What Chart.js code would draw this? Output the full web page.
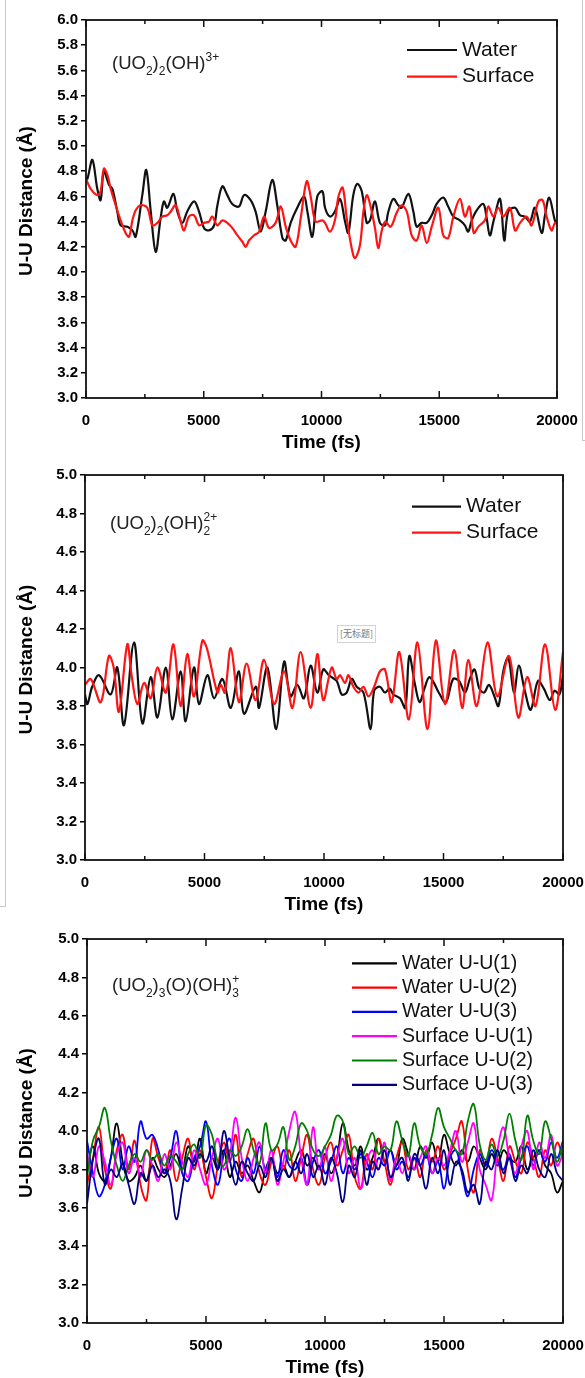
<!DOCTYPE html>
<html>
<head>
<meta charset="utf-8">
<script src="https://cdn.jsdelivr.net/npm/chart.js@4.4.0/dist/chart.umd.min.js"></script>
<style>
  body { margin: 0; background: #fff; width: 585px; height: 1378px; position: relative; overflow: hidden; }
  canvas { position: absolute; left: 0; }
  .rule { position: absolute; background: #c8c8c8; }
  .untitled { position: absolute; left: 337px; top: 625px; width: 37px; height: 16px; border: 1px solid #d4d4d4;
    font: 9px "Noto Sans CJK SC", sans-serif; color: #777; text-align: center; line-height: 16px; background: #fff; }
</style>
</head>
<body>
<canvas id="chart1" width="585" height="460" style="top:0"></canvas>
<canvas id="chart2" width="585" height="460" style="top:460px"></canvas>
<canvas id="chart3" width="585" height="458" style="top:920px"></canvas>
<div class="rule" style="left:5px;top:0;width:1px;height:907px"></div>
<div class="rule" style="left:0;top:906px;width:5px;height:1px"></div>
<div class="rule" style="left:582px;top:0;width:1px;height:440px"></div>
<div class="rule" style="left:582px;top:440px;width:3px;height:1px"></div>
<div class="untitled">[无标题]</div>
<script>
// ---- panel 1: (UO2)2(OH)3+ ----
const p1WaterT = [0,60,270,480,620,760,980,1120,1330,1470,1760,1970,2110,2390,2560,2750,2960,3170,3310,3450,3710,3880,4090,4300,4590,4800,5010,5220,5440,5580,5790,6000,6210,6500,6710,6990,7200,7420,7630,7910,8120,8340,8480,8690,8970,9260,9400,9610,9820,10040,10150,10360,10570,10790,11000,11140,11350,11520,11710,11920,12060,12270,12480,12700,12840,13050,13260,13400,13690,13900,14040,14250,14470,14680,14890,15170,15380,15600,15880,16090,16230,16380,16590,16870,17010,17150,17300,17580,17760,17930,18220,18430,18640,18850,19060,19350,19490,19670,19910,20000];
const p1Water = [4.75,4.74,4.89,4.66,4.57,4.80,4.69,4.66,4.48,4.37,4.36,4.33,4.28,4.61,4.81,4.48,4.16,4.43,4.56,4.51,4.62,4.48,4.39,4.48,4.56,4.48,4.35,4.33,4.37,4.53,4.68,4.61,4.54,4.52,4.61,4.57,4.48,4.32,4.48,4.73,4.53,4.27,4.25,4.39,4.51,4.60,4.48,4.28,4.60,4.64,4.51,4.44,4.48,4.58,4.40,4.31,4.61,4.70,4.64,4.39,4.41,4.56,4.39,4.37,4.48,4.58,4.53,4.51,4.62,4.48,4.36,4.39,4.39,4.45,4.54,4.59,4.52,4.44,4.41,4.37,4.32,4.41,4.49,4.54,4.43,4.29,4.40,4.58,4.25,4.48,4.51,4.45,4.44,4.40,4.51,4.31,4.45,4.59,4.41,4.38];
const p1SurfaceT = [0,200,480,620,760,910,1050,1260,1470,1680,1830,1970,2110,2320,2600,2820,3030,3240,3450,3600,3810,4020,4160,4370,4590,4800,5010,5220,5360,5580,5790,6000,6210,6430,6640,6780,6920,7130,7350,7560,7770,8050,8270,8480,8690,8900,9120,9370,9540,9750,10040,10150,10360,10570,10720,10900,11070,11280,11420,11630,11780,11920,12060,12270,12410,12550,12700,12940,13190,13400,13620,13830,14040,14250,14470,14680,14960,15170,15380,15600,15880,16090,16280,16470,16660,16940,17080,17300,17510,17720,18000,18220,18430,18710,18920,19210,19390,19560,19770,19910,20000];
const p1Surface = [4.74,4.66,4.61,4.64,4.82,4.77,4.66,4.53,4.41,4.31,4.28,4.41,4.49,4.53,4.51,4.37,4.39,4.44,4.45,4.48,4.53,4.40,4.33,4.44,4.45,4.37,4.39,4.40,4.44,4.37,4.41,4.39,4.35,4.29,4.24,4.20,4.25,4.29,4.32,4.44,4.35,4.39,4.52,4.36,4.25,4.20,4.43,4.72,4.60,4.40,4.41,4.39,4.32,4.41,4.60,4.67,4.43,4.19,4.11,4.21,4.48,4.61,4.54,4.35,4.19,4.32,4.40,4.36,4.47,4.53,4.48,4.29,4.25,4.37,4.23,4.36,4.51,4.29,4.27,4.44,4.58,4.44,4.52,4.31,4.36,4.41,4.52,4.44,4.51,4.44,4.51,4.33,4.39,4.44,4.37,4.56,4.57,4.44,4.33,4.39,4.38];

// ---- panel 2: (UO2)2(OH)2 2+ ----
const p2WaterT = [0,100,300,590,1070,1350,1630,2050,2400,2750,3030,3380,3650,4000,4210,4560,4770,5120,5400,5750,6100,6440,6650,7140,7280,7630,8000,8330,8600,8880,9160,9440,9720,9970,10200,10530,10740,10950,11160,11370,11650,11950,12100,12340,12550,12750,12900,13180,13400,13570,13810,14000,14200,14400,14600,14800,15100,15400,15650,15900,16100,16300,16500,16700,16900,17100,17300,17500,17710,17950,18150,18400,18650,18950,19200,19450,19650,19850,20000];
const p2Water = [3.86,3.81,3.90,3.96,3.86,4.00,3.70,4.13,3.71,3.95,3.74,4.00,3.73,3.98,3.72,4.00,3.81,3.96,3.84,3.94,3.79,3.98,3.76,3.90,3.79,4.00,3.68,4.03,3.85,3.91,3.84,4.01,3.87,3.99,3.96,3.93,3.86,3.87,3.94,3.90,3.87,3.68,3.88,3.90,3.87,3.89,3.86,3.84,3.79,4.06,3.91,3.82,3.89,3.95,3.92,3.87,3.82,3.94,3.93,3.87,3.94,3.99,3.89,3.87,3.91,3.86,3.80,3.98,4.05,3.87,4.01,3.88,3.78,3.93,3.89,3.83,3.88,3.86,3.96];
const p2SurfaceT = [0,240,660,1000,1200,1420,1770,1950,2190,2470,2750,3030,3380,3700,4000,4280,4560,4910,5100,5540,5680,5850,6100,6440,6760,7140,7490,7910,8330,8680,9020,9440,9720,9970,10320,10530,10670,10880,11020,11230,11440,11650,11860,12100,12340,12550,12830,13150,13550,13910,14330,14680,15060,15450,15780,16040,16390,16840,17250,17740,18130,18500,18850,19250,19670,20000];
const p2Surface = [3.91,3.94,3.82,4.06,4.00,3.77,4.12,3.96,3.81,3.92,3.84,4.00,3.87,4.12,3.80,4.07,3.85,4.14,4.10,3.87,3.91,3.87,4.10,3.82,4.02,3.83,4.04,3.81,3.98,3.79,4.08,3.79,4.07,3.83,4.00,3.94,3.96,3.92,3.96,3.90,3.87,3.90,3.85,3.90,3.98,3.99,3.82,4.08,3.73,4.13,3.68,4.14,3.81,4.09,3.79,4.04,3.80,4.13,3.85,4.06,3.74,3.95,3.80,4.12,3.78,4.08];

// ---- panel 3: (UO2)3(O)(OH)3 + ----
const p3Time = [0,250,500,750,1000,1250,1500,1750,2000,2250,2500,2750,3000,3250,3500,3750,4000,4250,4500,4750,5000,5250,5500,5750,6000,6250,6500,6750,7000,7250,7500,7750,8000,8250,8500,8750,9000,9250,9500,9750,10000,10250,10500,10750,11000,11250,11500,11750,12000,12250,12500,12750,13000,13250,13500,13750,14000,14250,14500,14750,15000,15250,15500,15750,16000,16250,16500,16750,17000,17250,17500,17750,18000,18250,18500,18750,19000,19250,19500,19750,20000];
const p3Water1 = [3.80,3.92,3.78,3.74,3.86,4.04,3.84,3.74,3.76,3.82,3.74,3.86,3.80,3.76,3.82,3.88,3.80,3.92,3.84,3.96,3.78,3.86,3.80,3.90,3.76,3.84,3.78,3.82,3.74,3.68,3.80,3.86,3.78,3.82,3.76,3.84,3.90,3.82,3.86,3.80,3.88,3.78,3.86,4.04,3.90,3.82,3.92,3.80,3.86,3.96,3.84,3.90,3.82,3.96,3.88,3.80,3.92,3.86,3.94,3.84,3.98,3.88,3.82,3.90,3.84,3.92,3.86,3.80,3.88,3.82,3.90,3.86,3.84,3.92,3.80,3.86,3.90,3.82,3.78,3.68,3.74];
const p3Water2 = [3.72,3.86,4.02,3.80,3.70,3.90,3.98,3.80,3.95,3.72,3.64,3.96,3.86,3.78,3.90,3.74,3.86,3.96,3.80,3.90,3.76,3.65,3.82,3.94,3.84,3.98,3.76,3.88,3.96,3.78,3.72,3.84,3.92,3.80,3.90,3.74,3.86,3.98,3.80,3.72,3.86,3.94,3.82,3.90,3.98,3.76,3.70,3.88,3.80,3.96,3.84,3.72,3.86,3.94,3.80,3.86,3.76,3.90,3.84,3.92,3.80,3.88,3.96,4.05,3.80,3.68,3.90,3.82,3.96,3.86,3.74,3.92,3.84,3.78,3.94,3.86,3.76,3.90,3.82,3.94,3.86];
const p3Water3 = [3.95,3.78,3.66,3.72,3.86,3.96,3.80,3.92,3.84,4.05,3.96,3.98,3.90,3.78,3.86,4.00,3.78,3.74,3.86,3.92,4.05,3.82,3.72,3.88,3.96,3.80,3.74,3.86,3.78,3.92,3.80,3.86,3.76,3.90,3.82,3.80,3.86,3.72,3.84,3.90,3.78,3.84,3.92,3.78,3.86,3.80,3.88,3.84,3.76,3.86,3.82,3.90,3.80,3.84,3.76,3.86,3.82,3.88,3.78,3.84,3.70,3.86,3.90,3.78,3.66,3.80,3.88,3.82,3.90,3.84,3.80,3.88,3.76,3.86,3.92,3.82,3.90,3.84,3.94,3.86,3.95];
const p3Surface1 = [3.88,3.76,3.92,3.84,3.72,3.88,3.94,3.78,3.86,3.76,3.90,3.82,3.74,3.88,3.80,3.94,3.84,3.76,3.90,3.80,3.72,3.86,3.96,3.80,3.88,4.07,3.86,3.74,3.86,3.94,3.78,3.90,3.72,3.84,4.00,4.10,3.86,3.72,4.02,3.80,3.92,3.74,3.86,3.96,3.78,3.86,3.70,3.84,3.90,3.80,3.94,3.74,3.86,3.78,3.88,3.80,3.86,3.92,3.78,3.86,3.82,3.90,4.00,3.84,3.94,4.04,3.80,3.72,3.64,3.90,4.02,3.86,3.78,3.92,4.00,3.80,3.94,3.86,3.98,3.82,3.88];
const p3Surface2 = [3.76,3.95,4.02,4.12,3.95,3.82,3.74,3.82,3.88,3.84,3.90,3.85,3.88,3.82,3.87,3.84,3.80,3.88,3.93,3.86,4.03,3.98,3.84,3.82,3.90,3.87,3.92,4.01,3.90,3.83,4.04,3.90,3.93,4.02,3.85,3.92,4.04,4.00,3.90,3.87,3.92,3.98,4.08,4.05,3.88,3.92,3.86,3.92,3.99,3.88,3.92,3.90,4.05,3.95,3.87,4.04,3.92,3.88,3.98,4.12,4.02,3.96,3.90,3.88,4.05,4.14,3.93,3.85,3.93,3.87,3.95,4.09,3.95,3.85,4.08,3.95,3.88,4.05,3.96,3.84,3.94];
const p3Surface3 = [3.62,3.85,3.96,3.72,3.80,3.76,3.83,3.72,3.62,3.78,3.74,3.82,3.76,3.80,3.74,3.54,3.70,3.86,3.82,3.88,3.84,3.92,3.80,4.00,3.85,3.72,3.84,3.78,3.74,3.82,3.76,3.86,3.74,3.80,3.76,3.84,3.78,3.88,3.76,3.82,3.72,3.86,3.78,3.63,3.82,3.76,3.90,3.72,3.84,3.80,3.90,3.76,3.82,3.86,3.74,3.88,3.82,3.70,3.86,3.78,3.90,3.72,3.84,3.80,3.68,3.72,3.62,3.84,3.80,3.90,3.78,3.86,3.74,3.82,3.78,3.90,3.80,3.76,3.88,3.78,3.74];

const FONT = '"Liberation Sans", Arial, sans-serif';

function pts(xs, ys) {
    return xs.map((x, i) => ({ x: x, y: ys[i] }));
}

// frame, inward time ticks, axis titles, formula and legend
const decor = {
    id: 'decor',
    afterDraw(chart, args, opts) {
        const ctx = chart.ctx;
        const { left, right, top, bottom } = chart.chartArea;
        const xs = chart.scales.x;
        ctx.save();
        ctx.strokeStyle = '#111';
        ctx.lineWidth = 1.8;
        ctx.strokeRect(left, top, right - left, bottom - top);

        ctx.lineWidth = 1.5;
        for (let v = 0; v <= 20000; v += 2500) {
            const px = xs.getPixelForValue(v);
            const len = v % 5000 === 0 ? 7 : 4;
            ctx.beginPath();
            ctx.moveTo(px, bottom); ctx.lineTo(px, bottom - len);
            ctx.moveTo(px, top); ctx.lineTo(px, top + len);
            ctx.stroke();
        }

        // axis titles
        ctx.fillStyle = '#000';
        ctx.font = 'bold 19px ' + FONT;
        ctx.textAlign = 'center';
        ctx.textBaseline = 'middle';
        ctx.fillText('Time (fs)', (left + right) / 2, bottom + 45);
        ctx.save();
        ctx.translate(27, (top + bottom) / 2 - 8);
        ctx.rotate(-Math.PI / 2);
        ctx.fillText('U-U Distance (Å)', 0, 0);
        ctx.restore();

        // species formula
        ctx.textAlign = 'left';
        ctx.textBaseline = 'alphabetic';
        ctx.fillStyle = '#222';
        let cx = opts.formula.x;
        const by = opts.formula.y;
        opts.formula.parts.forEach(p => {
            const [txt, kind, stack] = p;
            if (kind === 'n') {
                ctx.font = '18.5px ' + FONT;
                ctx.fillText(txt, cx, by);
                cx += ctx.measureText(txt).width;
            } else {
                ctx.font = '12px ' + FONT;
                ctx.fillText(txt, cx, by + (kind === 'sub' ? 6 : -8));
                if (!stack) cx += ctx.measureText(txt).width;
            }
        });

        // legend
        const lg = opts.legend;
        ctx.font = lg.size + 'px ' + FONT;
        ctx.textBaseline = 'middle';
        chart.data.datasets.forEach((ds, i) => {
            const y = lg.y + i * lg.row;
            ctx.strokeStyle = ds.borderColor;
            ctx.lineWidth = 2.2;
            ctx.beginPath();
            ctx.moveTo(lg.x, y); ctx.lineTo(lg.x + lg.len, y);
            ctx.stroke();
            ctx.fillStyle = '#111';
            ctx.fillText(ds.label, lg.x + lg.len + 5, y);
        });
        ctx.restore();
    }
};

function makeChart(id, datasets, cfg) {
    const n = datasets.length;
    datasets.forEach((ds, i) => {
        ds.order = n - 1 - i;
        ds.pointRadius = 0;
        ds.borderWidth = cfg.lw;
        ds.tension = cfg.tension;
        ds.fill = false;
    });
    return new Chart(document.getElementById(id), {
        type: 'line',
        data: { datasets: datasets },
        plugins: [decor],
        options: {
            responsive: false,
            animation: false,
            layout: { padding: { left: 0, top: cfg.top, right: cfg.right, bottom: 0 } },
            scales: {
                x: {
                    type: 'linear',
                    min: 0, max: 20000,
                    grid: { display: false },
                    border: { display: false },
                    ticks: {
                        stepSize: 5000, padding: 6, color: '#000', maxRotation: 0,
                        font: { family: FONT, size: 15, weight: 'bold' },
                        callback: v => String(v)
                    },
                    afterFit: s => { s.height = cfg.xh; s.paddingLeft = 0; s.paddingRight = 0; }
                },
                y: {
                    min: 3, max: cfg.ymax,
                    grid: { drawOnChartArea: false, drawTicks: true, tickLength: 5, color: '#000', lineWidth: 1.5 },
                    border: { display: false },
                    ticks: {
                        stepSize: 0.2, padding: 3, color: '#000',
                        font: { family: FONT, size: 15, weight: 'bold' },
                        callback: v => Number(v).toFixed(1)
                    },
                    afterFit: s => { s.width = cfg.yw; s.paddingTop = 0; s.paddingBottom = 0; }
                }
            },
            plugins: {
                legend: { display: false },
                tooltip: { enabled: false },
                decor: { formula: cfg.formula, legend: cfg.legend }
            }
        }
    });
}

makeChart('chart1', [
    { label: 'Water', data: pts(p1WaterT, p1Water), borderColor: '#111111' },
    { label: 'Surface', data: pts(p1SurfaceT, p1Surface), borderColor: '#ff1414' }
], {
    top: 20, right: 28, yw: 86, xh: 62, ymax: 6, lw: 2.2, tension: 0.35,
    formula: { x: 112, y: 68.5, parts: [['(UO', 'n'], ['2', 'sub'], [')', 'n'], ['2', 'sub'], ['(OH)', 'n'], ['3+', 'sup']] },
    legend: { x: 407, y: 50, row: 26.7, len: 50, size: 21 }
});

makeChart('chart2', [
    { label: 'Water', data: pts(p2WaterT, p2Water), borderColor: '#111111' },
    { label: 'Surface', data: pts(p2SurfaceT, p2Surface), borderColor: '#ff1414' }
], {
    top: 15, right: 22, yw: 85, xh: 60, ymax: 5, lw: 2.2, tension: 0.35,
    formula: { x: 110, y: 69, parts: [['(UO', 'n'], ['2', 'sub'], [')', 'n'], ['2', 'sub'], ['(OH)', 'n'], ['2', 'sub', true], ['2+', 'sup']] },
    legend: { x: 412, y: 46.7, row: 26, len: 49, size: 21 }
});

makeChart('chart3', [
    { label: 'Water U-U(1)', data: pts(p3Time, p3Water1), borderColor: '#000000' },
    { label: 'Water U-U(2)', data: pts(p3Time, p3Water2), borderColor: '#ff0000' },
    { label: 'Water U-U(3)', data: pts(p3Time, p3Water3), borderColor: '#0000ff' },
    { label: 'Surface U-U(1)', data: pts(p3Time, p3Surface1), borderColor: '#ff00ff' },
    { label: 'Surface U-U(2)', data: pts(p3Time, p3Surface2), borderColor: '#008000' },
    { label: 'Surface U-U(3)', data: pts(p3Time, p3Surface3), borderColor: '#000080' }
], {
    top: 19, right: 22, yw: 87, xh: 55, ymax: 5, lw: 1.8, tension: 0.4,
    formula: { x: 112, y: 70.5, parts: [['(UO', 'n'], ['2', 'sub'], [')', 'n'], ['3', 'sub'], ['(O)(OH)', 'n'], ['3', 'sub', true], ['+', 'sup']] },
    legend: { x: 352, y: 43.3, row: 24.3, len: 45, size: 19.5 }
});
</script>
</body>
</html>
